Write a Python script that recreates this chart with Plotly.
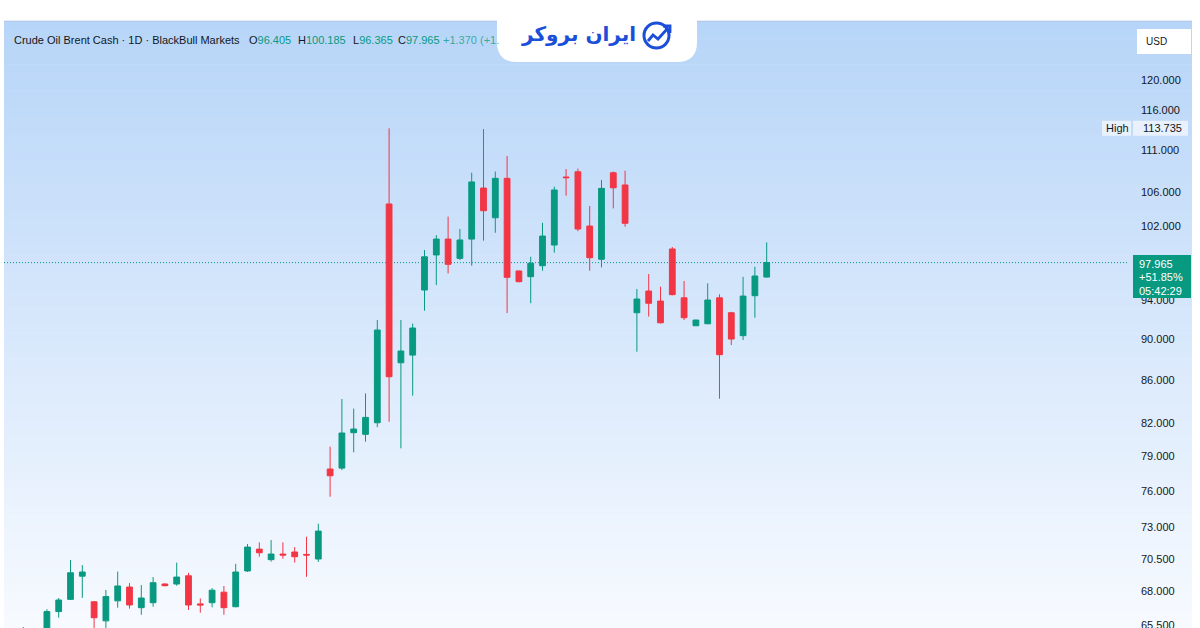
import math
import plotly.graph_objects as go

# ---------------- data ----------------
idx = list(range(64))
opens = [64.9, 64.6, 65.0, 66.48, 67.39, 69.15, 67.21, 65.80, 67.28, 68.32,
         66.77, 67.14, 68.55, 68.55, 69.18, 67.05, 67.14, 67.93, 66.84, 69.55,
         71.26, 70.43, 70.87, 71.03, 70.84, 70.48, 77.89, 77.97, 81.10, 80.95,
         82.00, 104.56, 87.65, 88.40, 95.03, 98.80, 100.56, 98.43, 100.56, 106.43,
         102.97, 107.58, 97.06, 96.45, 97.63, 99.90, 107.74, 108.37, 102.03, 98.33,
         108.25, 106.79, 92.66, 94.92, 93.87, 99.46, 94.21, 91.33, 91.53, 94.21,
         92.66, 90.33, 94.43, 96.405]
highs = [65.35, 65.1, 66.66, 67.49, 70.40, 70.00, 67.25, 68.10, 69.50, 68.62,
         68.47, 69.08, 68.60, 70.20, 69.41, 67.46, 68.24, 68.40, 70.10, 71.66,
         71.80, 71.98, 71.80, 71.42, 72.25, 73.30, 79.85, 84.19, 83.30, 84.72,
         91.91, 113.735, 91.91, 91.55, 99.35, 101.00, 103.10, 101.70, 108.25, 113.64,
         108.40, 110.28, 97.10, 98.60, 102.40, 106.60, 108.70, 108.75, 104.33, 107.38,
         108.40, 108.49, 95.13, 96.73, 95.38, 99.68, 95.99, 91.95, 95.73, 94.58,
         92.76, 96.43, 97.52, 100.185]
lows = [64.5, 64.0, 64.8, 66.03, 67.34, 67.50, 65.20, 65.20, 66.77, 66.70,
        66.25, 66.84, 68.38, 68.42, 66.60, 66.40, 66.80, 66.25, 66.80, 69.47,
        70.66, 70.27, 70.50, 70.20, 69.10, 70.25, 75.53, 77.80, 79.35, 80.29,
        81.60, 82.09, 79.70, 84.50, 92.87, 95.56, 96.80, 98.25, 97.63, 100.38,
        101.27, 92.63, 95.85, 93.64, 97.09, 99.05, 105.53, 101.45, 97.09, 97.45,
        104.05, 101.95, 88.73, 92.26, 91.57, 94.47, 91.91, 91.30, 91.50, 84.22,
        89.40, 89.89, 92.15, 96.365]
closes = [65.1, 64.8, 66.48, 67.34, 69.41, 69.47, 66.03, 67.60, 68.40, 66.97,
          67.49, 68.65, 68.42, 69.08, 66.97, 66.97, 68.08, 66.77, 69.47, 71.42,
          70.97, 70.87, 70.79, 70.66, 70.79, 72.70, 77.31, 81.07, 81.43, 82.49,
          90.90, 86.30, 88.80, 91.10, 98.60, 100.56, 97.78, 100.46, 107.15, 103.78,
          107.58, 96.38, 95.91, 97.89, 100.90, 106.20, 107.66, 101.69, 98.50, 106.39,
          106.46, 102.34, 94.08, 93.64, 91.63, 94.54, 92.15, 91.91, 93.98, 88.44,
          89.99, 94.39, 96.52, 97.965]

tick_vals = [65.5, 68.0, 70.5, 73.0, 76.0, 79.0, 82.0, 86.0, 90.0, 94.0,
             102.0, 106.0, 111.0, 116.0, 120.0]
tick_text = [f"{v:.3f}" for v in tick_vals]

title_text = "Crude Oil Brent Cash · 1D · BlackBull Markets"
change_text = "+1.370 (+1."
last_change_pct = "+51.85%"
countdown = "05:42:29"
range_high = max(highs)
last_close = closes[-1]

# ---------------- layout geometry ----------------
W, H = 1200, 628
LM, RM, TM, BM = 4, 72, 21, 0
PW, PH = W - LM - RM, H - TM - BM
Y_LO, Y_HI = 65.28, 128.13
X_LO, X_HI = -1.636, 93.62

GREEN = "#089981"
RED = "#F23645"
TXT = "#131722"
BLUE = "#1B4FD9"


def xp(px):
    return (px - LM) / PW


def yp(py):
    return (H - BM - py) / PH


def price_paper(p):
    return (math.log10(p) - math.log10(Y_LO)) / (math.log10(Y_HI) - math.log10(Y_LO))


def price_px(p):
    return H - BM - price_paper(p) * PH


shapes = []
# background gradient
N = 70
top_c = (183, 213, 248)
bot_c = (247, 250, 255)
y_top, y_bot = 21, 628
for k in range(N):
    t = k / (N - 1)
    c = tuple(round(top_c[j] + (bot_c[j] - top_c[j]) * t) for j in range(3))
    a = y_top + (y_bot - y_top) * k / N
    b = y_top + (y_bot - y_top) * (k + 1) / N
    shapes.append(dict(type="rect", xref="paper", yref="paper",
                       x0=xp(4), x1=xp(1192), y0=yp(b + 0.5), y1=yp(a),
                       fillcolor=f"rgb{c}", line=dict(width=0), layer="below"))
# top border line
shapes.append(dict(type="line", xref="paper", yref="paper", x0=xp(4), x1=xp(1192),
                   y0=yp(21), y1=yp(21), line=dict(color="rgba(150,170,200,0.45)", width=1),
                   layer="below"))

# price line
py_last = price_px(last_close)
shapes.append(dict(type="line", xref="paper", yref="paper", x0=0, x1=1,
                   y0=price_paper(last_close), y1=price_paper(last_close),
                   line=dict(color=GREEN, width=1, dash="1px,2px"), layer="below"))

# logo tab
def P(px, py):
    return f"{xp(px):.5f},{yp(py):.5f}"

tab = (f"M {P(497, 0)} L {P(497, 42)} Q {P(497, 62)} {P(517, 62)} "
       f"L {P(677, 62)} Q {P(697, 62)} {P(697, 42)} L {P(697, 0)} Z")
shapes.append(dict(type="path", xref="paper", yref="paper", path=tab,
                   fillcolor="white", line=dict(width=0), layer="above"))
# logo icon
shapes.append(dict(type="circle", xref="paper", yref="paper",
                   x0=xp(644), x1=xp(669), y0=yp(48), y1=yp(23),
                   line=dict(color=BLUE, width=3), layer="above"))
shapes.append(dict(type="path", xref="paper", yref="paper",
                   path=f"M {P(648, 41)} L {P(653, 35)} L {P(658, 39)} L {P(668, 28)}",
                   line=dict(color=BLUE, width=2.8), layer="above"))
shapes.append(dict(type="path", xref="paper", yref="paper",
                   path=f"M {P(663, 26)} L {P(670, 26)} L {P(670, 33)}",
                   line=dict(color=BLUE, width=2.8), layer="above"))

# USD box
shapes.append(dict(type="rect", xref="paper", yref="paper",
                   x0=xp(1137), x1=xp(1191), y0=yp(54), y1=yp(29),
                   fillcolor="white", line=dict(width=0), layer="above"))

# High label boxes
py_high = price_px(range_high)
shapes.append(dict(type="rect", xref="paper", yref="paper",
                   x0=xp(1102), x1=xp(1131), y0=yp(py_high + 7.5), y1=yp(py_high - 7.5),
                   fillcolor="rgba(240,246,253,0.85)", line=dict(width=0), layer="above"))
shapes.append(dict(type="rect", xref="paper", yref="paper",
                   x0=xp(1133), x1=xp(1188), y0=yp(py_high + 7.5), y1=yp(py_high - 7.5),
                   fillcolor="rgba(240,246,253,0.85)", line=dict(width=0), layer="above"))

# last price box
shapes.append(dict(type="rect", xref="paper", yref="paper",
                   x0=xp(1133), x1=xp(1191), y0=yp(py_last + 35.5), y1=yp(py_last - 7.5),
                   fillcolor=GREEN, line=dict(width=0), layer="above"))

annotations = []
F = "Liberation Sans, Arial, sans-serif"


def ann(text, px, py, size=11, color=TXT, xanchor="left", family=F):
    annotations.append(dict(text=text, xref="paper", yref="paper", x=xp(px), y=yp(py),
                            xanchor=xanchor, yanchor="middle", showarrow=False,
                            font=dict(family=family, size=size, color=color)))


hy = 39.5
ann(title_text, 12, hy)
ann(f"O<span style='color:{GREEN}'>{opens[-1]:.3f}</span>", 247, hy)
ann(f"H<span style='color:{GREEN}'>{highs[-1]:.3f}</span>", 296, hy)
ann(f"L<span style='color:{GREEN}'>{lows[-1]:.3f}</span>", 351, hy)
ann(f"C<span style='color:{GREEN}'>{closes[-1]:.3f}</span>", 396, hy)
ann(change_text, 441, hy, color="rgba(8,153,129,0.75)")

ann("<b>ایران بروکر</b>", 578, 34, size=20, color=BLUE, xanchor="center",
    family="DejaVu Sans, Noto Sans, sans-serif")

ann("USD", 1144, 41.5, size=10)
ann("High", 1117, py_high, xanchor="center")
ann(f"{range_high:.3f}", 1141, py_high)
ann(f"{last_close:.3f}", 1137, py_last + 1, color="white")
ann(last_change_pct, 1137, py_last + 14.5, color="white")
ann(countdown, 1137, py_last + 28, color="white")

fig = go.Figure()
fig.add_trace(go.Candlestick(
    x=idx, open=opens, high=highs, low=lows, close=closes,
    increasing=dict(line=dict(color=GREEN, width=1), fillcolor=GREEN),
    decreasing=dict(line=dict(color=RED, width=1), fillcolor=RED),
    whiskerwidth=0, showlegend=False, hoverinfo="skip"))

fig.update_layout(
    width=W, height=H, autosize=False,
    margin=dict(l=LM, r=RM, t=TM, b=BM, pad=0, autoexpand=False),
    paper_bgcolor="white", plot_bgcolor="rgba(0,0,0,0)",
    showlegend=False,
    xaxis=dict(range=[X_LO, X_HI], visible=False, rangeslider=dict(visible=False),
               showgrid=False, zeroline=False, automargin=False),
    yaxis=dict(type="log", range=[math.log10(Y_LO), math.log10(Y_HI)], side="right",
               tickvals=tick_vals, ticktext=tick_text, showgrid=False, zeroline=False,
               showline=False, ticks="", ticklabelstandoff=12, ticklabeloverflow="allow",
               automargin=False,
               tickfont=dict(family=F, size=11, color=TXT)),
    shapes=shapes, annotations=annotations,
)

fig.write_html("out.html", config={"displayModeBar": False},
               post_script="document.body.style.margin='0';document.body.style.overflow='hidden';")
